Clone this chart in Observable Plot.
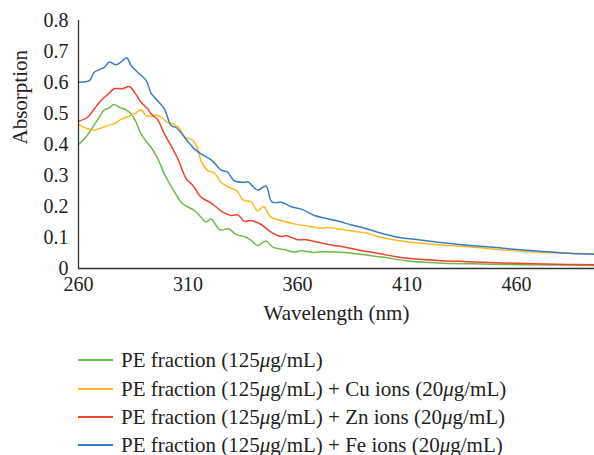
<!DOCTYPE html>
<html><head><meta charset="utf-8">
<script src="https://cdn.jsdelivr.net/npm/d3@7"></script>
<script src="https://cdn.jsdelivr.net/npm/@observablehq/plot@0.6"></script>
<style>
body{margin:0;background:#fff;font-family:"Liberation Serif",serif;}
#legend{position:relative;height:120px;width:594px;}
.row{position:absolute;left:78px;display:flex;align-items:center;font-size:21px;line-height:22px;color:#222;white-space:nowrap;}
.sw{display:inline-block;width:35px;height:1.5px;margin-right:8px;}
</style></head><body><div id="chart"></div><div id="legend"></div>
<script>
const seriesNames = [
  "PE fraction (125<i>μ</i>g/mL)",
  "PE fraction (125<i>μ</i>g/mL) + Cu ions (20<i>μ</i>g/mL)",
  "PE fraction (125<i>μ</i>g/mL) + Zn ions (20<i>μ</i>g/mL)",
  "PE fraction (125<i>μ</i>g/mL) + Fe ions (20<i>μ</i>g/mL)"
];
const seriesKeys = ["PE", "Cu", "Zn", "Fe"];
const seriesColors = ["#6cbb4a", "#ffb81f", "#f0432d", "#3a7dc3"];
const xTicks = [260, 310, 360, 410, 460];
const yTicks = [0, 0.1, 0.2, 0.3, 0.4, 0.5, 0.6, 0.7, 0.8];

const peNm  = [260,263.4,266.5,269.5,271.8,274.1,276.1,278.6,281.7,284,286.3,288.5,291.6,293.1,296.2,299.2,303,307.6,312.9,315.9,318.2,320.5,324.6,328.5,331.9,336.5,339,341.8,345.6,348.7,354,358.5,361.6,366.9,372.2,381.4,390.5,399.6,410.3,424,439.2,454.4,469.7,484.9,495.5];
const peAbs = [0.400,0.424,0.456,0.488,0.512,0.518,0.529,0.520,0.512,0.499,0.472,0.435,0.404,0.391,0.354,0.305,0.257,0.209,0.187,0.166,0.150,0.160,0.125,0.128,0.110,0.101,0.090,0.074,0.089,0.069,0.061,0.053,0.057,0.052,0.054,0.052,0.044,0.036,0.024,0.018,0.015,0.013,0.012,0.011,0.010];

const cuNm  = [260,264.2,267.2,270.3,273.3,276.3,279.4,284,286.3,288.5,290.8,293.1,295.4,297.7,300.4,303.7,306,308.6,312.1,314.4,315.9,319,322,325.1,328.7,332.4,335,337.3,339,341.8,344.6,347.8,352.4,358.5,366.1,371.4,373.7,378.3,385.8,391.9,396.6,405.8,414.9,427.1,439.3,451.5,463.6,475.8,488,495.5];
const cuAbs = [0.465,0.451,0.447,0.453,0.461,0.467,0.481,0.494,0.502,0.512,0.494,0.490,0.494,0.488,0.472,0.465,0.453,0.424,0.414,0.388,0.348,0.316,0.308,0.278,0.262,0.250,0.222,0.218,0.214,0.186,0.200,0.166,0.155,0.144,0.135,0.130,0.133,0.128,0.120,0.114,0.103,0.090,0.082,0.075,0.069,0.061,0.055,0.051,0.048,0.047];

const znNm  = [260,264.2,267.2,270.3,273.3,276.3,280.2,283.2,285.5,288.5,291.6,293.1,296.2,298.5,300,302.3,305.3,309.2,312.2,316,320.6,325.9,329.7,332.8,335.8,338.8,343.4,347.9,352.5,354.8,360.1,363.9,369.2,375.3,381.4,389,396.6,404.2,411.9,424,437.7,452.9,468.1,483.3,495.5];
const znAbs = [0.475,0.488,0.515,0.542,0.561,0.580,0.580,0.587,0.569,0.537,0.515,0.499,0.480,0.445,0.424,0.395,0.355,0.289,0.268,0.230,0.211,0.182,0.171,0.173,0.152,0.155,0.142,0.117,0.103,0.106,0.093,0.093,0.085,0.076,0.069,0.058,0.049,0.039,0.032,0.026,0.022,0.018,0.015,0.013,0.012];

const feNm  = [260,264.9,267.2,270.3,271.8,274.1,277.1,279.4,282,284,287,290.9,293.2,296.2,299.2,302.3,304.7,309.9,312.9,315.9,321,325,328,331.1,335.7,337.3,341.8,345.6,348.3,353,357,362.4,367.7,372.2,378.4,384.4,390.5,396.6,405.8,413.3,424,436.2,448.4,460.5,472.7,484.9,495.5];
const feAbs = [0.601,0.606,0.633,0.644,0.649,0.666,0.657,0.666,0.680,0.655,0.633,0.606,0.565,0.540,0.515,0.461,0.454,0.410,0.386,0.370,0.348,0.318,0.311,0.283,0.278,0.280,0.253,0.266,0.215,0.213,0.200,0.190,0.171,0.163,0.153,0.141,0.130,0.117,0.101,0.094,0.085,0.076,0.069,0.061,0.055,0.048,0.046];

const nmArrays = [peNm, cuNm, znNm, feNm];
const absArrays = [peAbs, cuAbs, znAbs, feAbs];
const table = [];
seriesKeys.forEach((k, i) => nmArrays[i].forEach((nm, j) => table.push({series: k, nm, abs: absArrays[i][j]})));

const plot = Plot.plot({
  width: 594, height: 335,
  marginLeft: 78, marginRight: 0, marginTop: 20, marginBottom: 67,
  style: {fontFamily: "Liberation Serif", fontSize: "20px", color: "#222", background: "#fff"},
  x: {domain: [260, 495.6]},
  y: {domain: [0, 0.8]},
  color: {domain: seriesKeys, range: seriesColors},
  marks: [
    Plot.axisX({ticks: xTicks, tickSize: 0, tickPadding: 8, label: null, fontSize: 20, tickFormat: d => String(d)}),
    Plot.axisY({ticks: yTicks, tickSize: 0, tickPadding: 10, label: null, fontSize: 20, tickFormat: d => d === 0 ? "0" : d.toFixed(1)}),
    Plot.lineY(table, {x: "nm", y: "abs", z: "series", stroke: "series", strokeWidth: 1.5, curve: "catmull-rom"}),
    Plot.ruleX([260], {y1: 0, y2: 0.8, stroke: "#333", strokeWidth: 1.3}),
    Plot.ruleY([0], {stroke: "#333", strokeWidth: 1.3}),
    Plot.text(["Absorption"], {frameAnchor: "left", dx: -58, rotate: -90, fontSize: 21, fill: "#222"}),
    Plot.text(["Wavelength (nm)"], {frameAnchor: "bottom", dy: 51, fontSize: 21, fill: "#222"})
  ]
});
document.getElementById("chart").appendChild(plot);

const legend = document.getElementById("legend");
const rowTops = [14, 43, 71, 99];
seriesNames.forEach((name, i) => {
  const row = document.createElement("div");
  row.className = "row";
  row.style.top = rowTops[i] + "px";
  row.innerHTML = `<span class="sw" style="background:${seriesColors[i]}"></span><span>${name}</span>`;
  legend.appendChild(row);
});
</script></body></html>
